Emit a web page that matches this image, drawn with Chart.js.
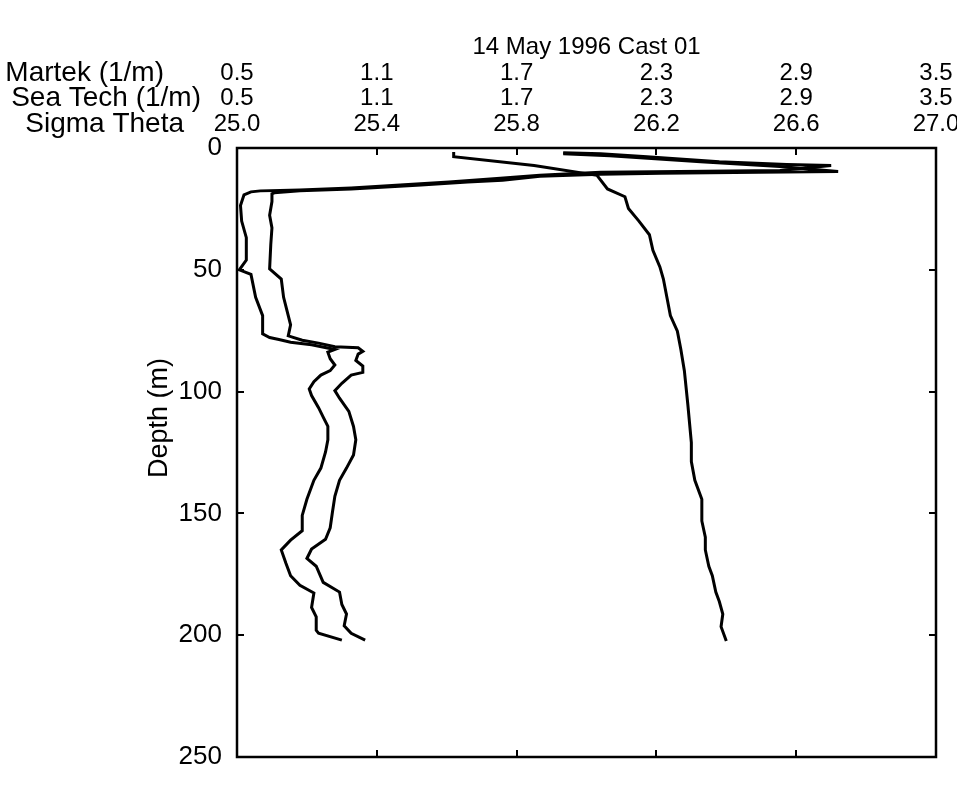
<!DOCTYPE html>
<html>
<head>
<meta charset="utf-8">
<title>14 May 1996 Cast 01</title>
<script src="https://cdn.jsdelivr.net/npm/chart.js@4.4.1/dist/chart.umd.min.js"></script>
<style>
  html, body { margin: 0; padding: 0; background: #fff; }
  canvas { display: block; }
</style>
</head>
<body>
<canvas id="cast" width="957" height="802"></canvas>
<script>
// Beam attenuation profiles (1/m) and density (sigma-theta) against depth (m)
const martekDepth = [2.0, 2.4, 3.6, 5.6, 6.8, 7.2, 9.2, 9.6, 10.0, 11.2, 12.4, 14.0, 15.2, 16.4, 17.2, 17.6, 18.0, 19.2,
  23.6, 30.0, 36.8, 46.0, 50.0, 51.9, 61.3, 68.8, 76.3, 77.8, 78.6, 79.7, 80.8, 82.7, 83.8, 86.5, 89.1, 91.4,
  93.2, 95.9, 98.9, 101.6, 106.6, 110.5, 114.3, 119.8, 124.8, 131.4, 136.4, 144.2, 150.8, 157.1, 161.0, 165.0,
  170.5, 175.6, 179.5, 182.7, 188.6, 192.5, 198.0, 199.2, 202.0];
const martekAtten = [1.90, 2.06, 2.26, 2.57, 2.86, 3.05, 2.83, 2.40, 2.06, 1.80, 1.63, 1.41, 1.20, 0.99, 0.77, 0.60, 0.56, 0.53,
  0.515, 0.52, 0.54, 0.54, 0.51, 0.56, 0.58, 0.61, 0.61, 0.64, 0.68, 0.73, 0.82, 0.92, 0.89, 0.90, 0.92, 0.90,
  0.86, 0.83, 0.81, 0.82, 0.85, 0.87, 0.89, 0.89, 0.88, 0.86, 0.83, 0.80, 0.78, 0.78, 0.73, 0.69,
  0.71, 0.73, 0.77, 0.83, 0.82, 0.84, 0.84, 0.85, 0.95];

const seaTechDepth = [2.4, 3.2, 5.6, 7.6, 9.6, 10.0, 10.4, 10.8, 11.6, 13.2, 14.0, 15.2, 16.8, 17.6, 18.4, 18.8, 22.0, 27.6,
  32.8, 39.6, 49.6, 53.8, 61.3, 68.8, 72.6, 77.1, 78.9, 80.1, 81.6, 82.0, 83.5, 84.6, 87.2, 89.5, 92.1, 93.2,
  96.6, 99.6, 102.7, 108.1, 114.3, 119.8, 126.0, 131.4, 136.4, 143.0, 149.2, 155.9, 160.6, 164.6, 168.5, 171.7,
  178.3, 182.3, 187.4, 191.3, 196.1, 199.2, 202.0];
const seaTechAtten = [1.90, 2.10, 2.49, 2.83, 3.08, 2.74, 2.32, 2.06, 1.80, 1.64, 1.49, 1.29, 0.99, 0.77, 0.66, 0.65, 0.65, 0.64,
  0.65, 0.645, 0.64, 0.69, 0.70, 0.72, 0.73, 0.72, 0.78, 0.85, 0.92, 1.02, 1.04, 1.02, 1.01, 1.04, 1.04, 0.99,
  0.95, 0.92, 0.94, 0.98, 1.00, 1.01, 1.00, 0.97, 0.94, 0.92, 0.91, 0.90, 0.88, 0.82, 0.80, 0.84,
  0.87, 0.94, 0.95, 0.97, 0.96, 0.99, 1.05];

const sigmaDepth = [1.6, 3.6, 7.2, 11.2, 16.8, 20.0, 24.8, 30.0, 35.6, 42.0, 48.8, 53.8, 61.3, 68.8, 75.2, 82.7,
  91.4, 105.4, 120.9, 128.7, 136.4, 144.2, 153.1, 159.8, 165.0, 171.7, 175.6, 182.3, 186.2, 191.3, 196.5, 202.4];
const sigmaTheta = [25.62, 25.62, 25.85, 26.03, 26.06, 26.11, 26.12, 26.15, 26.18, 26.19, 26.21, 26.22, 26.23, 26.24, 26.26, 26.27,
  26.28, 26.29, 26.30, 26.30, 26.31, 26.33, 26.33, 26.34, 26.34, 26.35, 26.36, 26.37, 26.38, 26.39, 26.385, 26.40];

// Axis ticks
const attenTicks = [0.5, 1.1, 1.7, 2.3, 2.9, 3.5];
const sigmaTicks = [25.0, 25.4, 25.8, 26.2, 26.6, 27.0];
const depthTicks = [0, 50, 100, 150, 200, 250];

const chartTitle = '14 May 1996 Cast 01';
const rowLabels = { xm: 'Martek (1/m)', xt: 'Sea Tech (1/m)', xs: 'Sigma Theta' };
const depthTitle = 'Depth (m)';

const FONT = '"Liberation Sans", Arial, Helvetica, sans-serif';

const toPoints = (xs, ys) => xs.map((v, i) => ({ x: v, y: ys[i] }));

function fixedTicks(values) {
  return function (scale) {
    scale.ticks = values.map(v => ({ value: v }));
  };
}

// One row of top tick labels; each box is sized so its labels sit fully inside it
function topAxis(min, max, values, height, padding, weight) {
  return {
    type: 'linear',
    position: 'top',
    min: min,
    max: max,
    weight: weight,
    grid: { display: false, drawTicks: false },
    border: { display: false },
    afterBuildTicks: fixedTicks(values),
    afterFit(scale) {
      scale.height = height;
      scale.paddingLeft = 0;
      scale.paddingRight = 0;
    },
    ticks: {
      autoSkip: false,
      maxRotation: 0,
      padding: padding,
      color: '#000',
      font: { family: FONT, size: 24, lineHeight: 1 },
      callback: v => Number(v).toFixed(1)
    }
  };
}

// Frame, inward tick marks and the side labels
const frameAndLabels = {
  id: 'frameAndLabels',
  afterDatasetsDraw(chart) {
    const { ctx, chartArea: a, scales } = chart;
    ctx.save();
    ctx.strokeStyle = '#000';
    ctx.lineWidth = 2.5;
    ctx.strokeRect(a.left, a.top, a.right - a.left, a.bottom - a.top);

    ctx.lineWidth = 2;
    ctx.beginPath();
    attenTicks.slice(1, -1).forEach(v => {
      const x = Math.round(scales.xm.getPixelForValue(v));
      ctx.moveTo(x, a.top); ctx.lineTo(x, a.top + 7);
      ctx.moveTo(x, a.bottom); ctx.lineTo(x, a.bottom - 7);
    });
    depthTicks.slice(1, -1).forEach(v => {
      const y = Math.round(scales.y.getPixelForValue(v));
      ctx.moveTo(a.left, y); ctx.lineTo(a.left + 7, y);
      ctx.moveTo(a.right, y); ctx.lineTo(a.right - 7, y);
    });
    ctx.stroke();

    ctx.fillStyle = '#000';
    ctx.textBaseline = 'middle';
    ctx.textAlign = 'right';
    ctx.font = '28px ' + FONT;
    const rowRight = { xm: 164, xt: 201, xs: 184 };
    Object.keys(rowLabels).forEach(id => {
      const s = scales[id];
      const y = s.bottom - s.options.ticks.padding - 12;
      ctx.fillText(rowLabels[id], rowRight[id], y);
    });

    ctx.translate(160, 418);
    ctx.rotate(-Math.PI / 2);
    ctx.textAlign = 'center';
    ctx.font = '27px ' + FONT;
    ctx.fillText(depthTitle, 0, 0);
    ctx.restore();
  }
};

const lineStyle = {
  showLine: true,
  borderColor: '#000',
  backgroundColor: '#000',
  borderWidth: 3,
  pointRadius: 0,
  pointHoverRadius: 0,
  tension: 0,
  fill: false
};

new Chart(document.getElementById('cast'), {
  type: 'scatter',
  data: {
    datasets: [
      Object.assign({ label: 'Martek', data: toPoints(martekAtten, martekDepth), xAxisID: 'xm', yAxisID: 'y' }, lineStyle),
      Object.assign({ label: 'Sea Tech', data: toPoints(seaTechAtten, seaTechDepth), xAxisID: 'xt', yAxisID: 'y' }, lineStyle),
      Object.assign({ label: 'Sigma Theta', data: toPoints(sigmaTheta, sigmaDepth), xAxisID: 'xs', yAxisID: 'y' }, lineStyle)
    ]
  },
  options: {
    responsive: false,
    animation: false,
    events: [],
    layout: { padding: { top: 0, left: 0, right: 21, bottom: 45 } },
    plugins: {
      legend: { display: false },
      tooltip: { enabled: false },
      title: {
        display: true,
        text: chartTitle,
        fullSize: false,
        color: '#000',
        font: { family: FONT, size: 24, weight: 'normal', lineHeight: 1 },
        padding: { top: 35, bottom: 2 }
      }
    },
    scales: {
      xs: topAxis(25.0, 27.0, sigmaTicks, 37, 12, 0),
      xt: topAxis(0.5, 3.5, attenTicks, 25, 1, 1),
      xm: topAxis(0.5, 3.5, attenTicks, 25, 1, 2),
      y: {
        type: 'linear',
        position: 'left',
        reverse: true,
        min: 0,
        max: 250,
        grid: { display: false, drawTicks: false },
        border: { display: false },
        afterBuildTicks: fixedTicks(depthTicks),
        afterFit(scale) {
          scale.width = 237;
          scale.paddingTop = 0;
          scale.paddingBottom = 0;
        },
        ticks: {
          autoSkip: false,
          padding: 15,
          color: '#000',
          font: { family: FONT, size: 26, lineHeight: 1 }
        }
      }
    }
  },
  plugins: [frameAndLabels]
});
</script>
</body>
</html>
